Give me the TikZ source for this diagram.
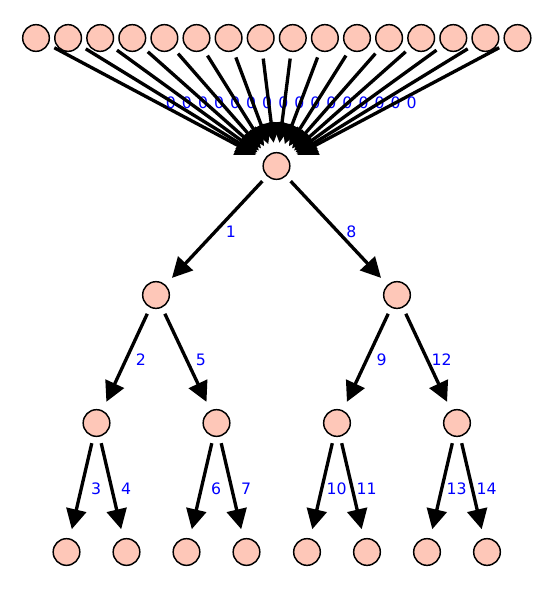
\documentclass[tikz,border=0pt]{standalone}
\usepackage{fontspec}
\setmainfont{DejaVu Sans}
\usetikzlibrary{arrows.meta}
\definecolor{vcol}{HTML}{FEC7B8}

\begin{document}
\begin{tikzpicture}[
      x=0.75pt, y=-0.75pt,
      >={Triangle[length=15pt, width=15pt]},
      vertex/.style={circle, draw=black, fill=vcol, line width=1.1pt, minimum size=20pt, inner sep=0pt},
      arc/.style={->, draw=black, line width=2.5pt, shorten <=5pt, shorten >=7pt},
      lbl/.style={text=blue, font=\fontsize{11.8}{13}\selectfont, xshift=11pt, yshift=-0.75pt, inner sep=0pt}
  ]
      \useasboundingbox (0,0) rectangle (554,590);

      % Vertices
      \foreach \i in {0,...,15}
          \node[vertex] (t\i) at ({36+32.1*\i}, 38) {};
      \node[vertex] (r)  at (276.5,166) {};
      \node[vertex] (a)  at (156,295)   {};
      \node[vertex] (b)  at (397,295)   {};
      \node[vertex] (aa) at (96.5,423)  {};
      \node[vertex] (ab) at (216.5,423) {};
      \node[vertex] (ba) at (337,423)   {};
      \node[vertex] (bb) at (457,423)   {};
      \node[vertex] (l1) at (66.5,552)  {};
      \node[vertex] (l2) at (126.5,552) {};
      \node[vertex] (l3) at (186.5,552) {};
      \node[vertex] (l4) at (246.5,552) {};
      \node[vertex] (l5) at (307,552)   {};
      \node[vertex] (l6) at (367,552)   {};
      \node[vertex] (l7) at (427,552)   {};
      \node[vertex] (l8) at (487,552)   {};

      % Edges into the root
      \foreach \i in {0,...,15}
          \draw[arc] (t\i) -- node[lbl] {0} (r);

      % Tree edges
      \draw[arc] (r)  -- node[lbl] {1}  (a);
      \draw[arc] (r)  -- node[lbl] {8}  (b);
      \draw[arc] (a)  -- node[lbl] {2}  (aa);
      \draw[arc] (a)  -- node[lbl] {5}  (ab);
      \draw[arc] (b)  -- node[lbl] {9}  (ba);
      \draw[arc] (b)  -- node[lbl] {12} (bb);
      \draw[arc] (aa) -- node[lbl] {3}  (l1);
      \draw[arc] (aa) -- node[lbl] {4}  (l2);
      \draw[arc] (ab) -- node[lbl] {6}  (l3);
      \draw[arc] (ab) -- node[lbl] {7}  (l4);
      \draw[arc] (ba) -- node[lbl] {10} (l5);
      \draw[arc] (ba) -- node[lbl] {11} (l6);
      \draw[arc] (bb) -- node[lbl] {13} (l7);
      \draw[arc] (bb) -- node[lbl] {14} (l8);
  \end{tikzpicture}
\end{document}
